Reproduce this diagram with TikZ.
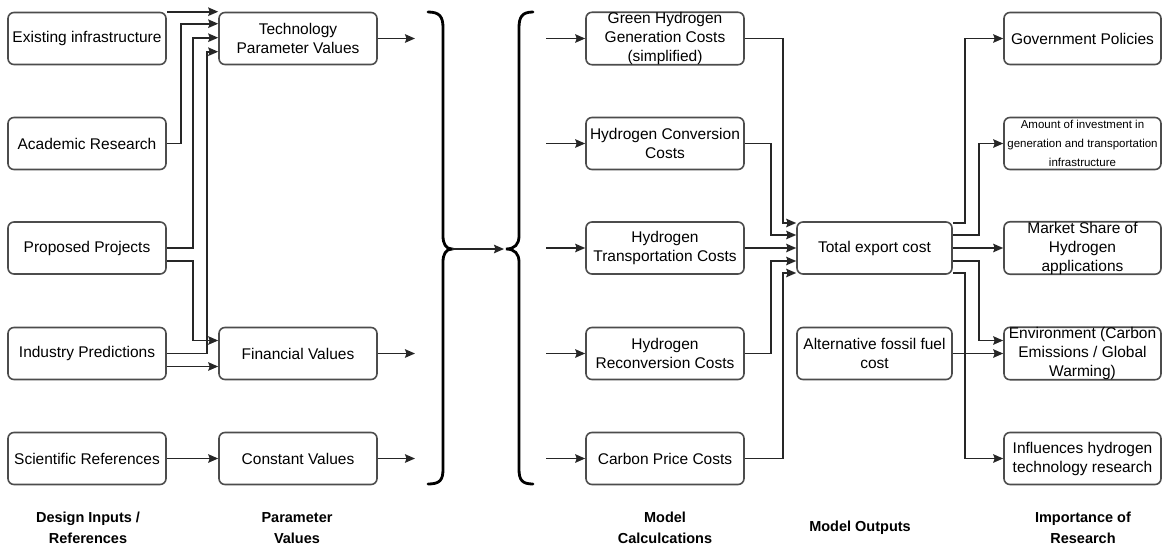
\documentclass[tikz,border=0pt]{standalone}
\usepackage{fontspec}
\setmainfont{Liberation Sans}
\usetikzlibrary{arrows.meta}
\begin{document}
\begin{tikzpicture}[x=1pt,y=-1pt,
  box/.style={draw=black!70, line width=1.6pt, rounded corners=6pt, fill=white,
    minimum width=158pt, minimum height=52pt, inner xsep=1pt, inner ysep=0pt,
    align=center, font=\fontsize{15.5}{19}\selectfont},
  smallbox/.style={box, font=\fontsize{11.5}{19}\selectfont},
  arr/.style={draw=black!85, line width=1.6pt, -{Stealth[length=10pt,width=8.5pt,inset=1.5pt]}},
  brace/.style={draw=black, line width=2.8pt, line cap=round},
  head/.style={align=center, font=\bfseries\fontsize{14.5}{21}\selectfont}
]
\useasboundingbox (0,0) rectangle (1162,552);

% column 1
\node[box] (ex) at (87,38.5) {Existing infrastructure};
\node[box] (ac) at (87,143.5) {Academic Research};
\node[box] (pp) at (87,248) {Proposed Projects};
\node[box] (ip) at (87,353.5) {Industry Predictions};
\node[box] (sr) at (87,458.5) {Scientific References};

% column 2
\node[box] (tp) at (298,38.5) {Technology\\Parameter Values};
\node[box] (fv) at (298,353.5) {Financial Values};
\node[box] (cv) at (298,458.5) {Constant Values};

% column 3
\node[box] (gh) at (665,38.5) {Green Hydrogen\\Generation Costs\\(simplified)};
\node[box] (hc) at (665,143.5) {Hydrogen Conversion\\Costs};
\node[box] (ht) at (665,248) {Hydrogen\\Transportation Costs};
\node[box] (hr) at (665,353.5) {Hydrogen\\Reconversion Costs};
\node[box] (cp) at (665,458.5) {Carbon Price Costs};

% column 4
\node[box, minimum width=155pt] (te) at (874.5,248) {Total export cost};
\node[box, minimum width=155pt] (af) at (874.5,353.5) {Alternative fossil fuel\\cost};

% column 5
\node[box, minimum width=157pt] (gp) at (1082.5,38.5) {Government Policies};
\node[smallbox, minimum width=157pt] (ai) at (1082.5,143.5) {Amount of investment in\\generation and transportation\\infrastructure};
\node[box, minimum width=157pt] (ms) at (1082.5,248) {Market Share of\\Hydrogen\\applications};
\node[box, minimum width=157pt] (en) at (1082.5,353.5) {Environment (Carbon\\Emissions / Global\\Warming)};
\node[box, minimum width=157pt] (ih) at (1082.5,458.5) {Influences hydrogen\\technology research};

% inputs -> parameters
\draw[arr] (ex.north east) -- (tp.north west);
\draw[arr] (ac.east) -- ++(14,0) |- ([yshift=-12pt]tp.north west);
\draw[arr] (pp.east) -- ++(26,0) |- ([yshift=-26pt]tp.north west);
\draw[arr] (ip.east) -- ++(40,0) |- ([yshift=-40pt]tp.north west);
\draw[arr] ([yshift=-13pt]pp.east) -- ++(26,0) |- ([yshift=13pt]fv.west);
\draw[arr] ([yshift=-13pt]ip.east) -- ([yshift=-13pt]fv.west);
\draw[arr] (sr.east) -- (cv.west);

% parameter outputs
\coordinate (o1) at (415,38.5);
\coordinate (o2) at (415,353.5);
\coordinate (o3) at (415,458.5);
\draw[arr] (tp.east) -- (o1);
\draw[arr] (fv.east) -- (o2);
\draw[arr] (cv.east) -- (o3);

% braces
\coordinate (b1) at (452,249);
\coordinate (b2) at (506,249);
\draw[brace] (428,12) .. controls (440,12) and (443,17) .. (443,28) -- (443,236)
  .. controls (443,244) and (446,249) .. (b1)
  .. controls (446,249) and (443,254) .. (443,262) -- (443,469)
  .. controls (443,480) and (440,484) .. (428,484);
\draw[brace] (533,12) .. controls (522,12) and (519,17) .. (519,28) -- (519,236)
  .. controls (519,244) and (515,249) .. (b2)
  .. controls (515,249) and (519,254) .. (519,262) -- (519,469)
  .. controls (519,480) and (522,484) .. (533,484);
\draw[arr] (b1) -- ([xshift=-2pt]b2);

% into calculations
\coordinate (i1) at (546,38.5);
\coordinate (i2) at (546,143.5);
\coordinate (i3) at (546,248);
\coordinate (i4) at (546,353.5);
\coordinate (i5) at (546,458.5);
\draw[arr] (i1) -- (gh.west);
\draw[arr] (i2) -- (hc.west);
\draw[arr] (i3) -- (ht.west);
\draw[arr] (i4) -- (hr.west);
\draw[arr] (i5) -- (cp.west);

% calculations -> total export cost
\draw[arr] (gh.east) -- ++(38,0) |- ([yshift=25pt]te.west);
\draw[arr] (hc.east) -- ++(26,0) |- ([yshift=13pt]te.west);
\draw[arr] (ht.east) -- (te.west);
\draw[arr] (hr.east) -- ++(26,0) |- ([yshift=-13pt]te.west);
\draw[arr] (cp.east) -- ++(38,0) |- ([yshift=-25pt]te.west);

% outputs -> importance
\draw[arr] ([yshift=25pt]te.east) -- ++(12,0) |- (gp.west);
\draw[arr] ([yshift=13pt]te.east) -- ++(26,0) |- (ai.west);
\draw[arr] (te.east) -- (ms.west);
\draw[arr] ([yshift=-13pt]te.east) -- ++(26,0) |- ([yshift=13pt]en.west);
\draw[arr] ([yshift=-25pt]te.east) -- ++(12,0) |- (ih.west);
\draw[arr] (af.east) -- (en.west);

% column headings
\node[head] (h1) at (88,528) {Design Inputs /\\References};
\node[head] (h2) at (297,528) {Parameter\\Values};
\node[head] (h3) at (665,528) {Model\\Calculcations};
\node[head] (h4) at (860,528) {Model Outputs};
\node[head] (h5) at (1083,528) {Importance of\\Research};
\end{tikzpicture}
\end{document}
